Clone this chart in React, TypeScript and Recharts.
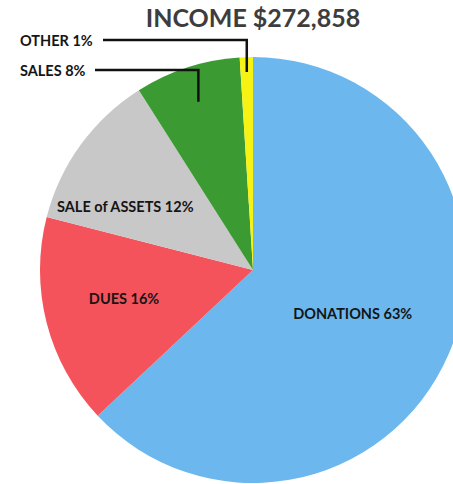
import { PieChart, Pie, Cell } from 'recharts'

const categories = ['DONATIONS', 'DUES', 'SALE of ASSETS', 'SALES', 'OTHER']
const shares = [63, 16, 12, 8, 1]
const colors = ['#6cb8ee', '#f4535b', '#c8c8c8', '#3c9a32', '#f5f214']
const title = 'INCOME $272,858'

const data = categories.map((name, i) => ({ name, value: shares[i] }))

const RAD = Math.PI / 180
const FONT = 'Lato, "Open Sans", sans-serif'

// inside labels: radius factor + angle nudge; outside labels: leader line to the left
const labelLayout = [
  { kind: 'in', r: 0.51, da: 0 },
  { kind: 'in', r: 0.62, da: -2 },
  { kind: 'in', r: 0.67, da: 9.5 },
  { kind: 'out', r: 0.83, lineY: -200, lineX: -158 },
  { kind: 'out', r: 0.93, lineY: -230, lineX: -150 },
]

function renderLabel(props) {
  const { cx, cy, midAngle, outerRadius, index, name, value } = props
  const lay = labelLayout[index]
  const text = `${name} ${value}%`
  if (lay.kind === 'in') {
    const a = (midAngle + lay.da) * RAD
    const x = cx + outerRadius * lay.r * Math.cos(-a)
    const y = cy + outerRadius * lay.r * Math.sin(-a)
    return (
      <text x={x} y={y} textAnchor="middle" dominantBaseline="central" fill="#151515" fontSize={14.5} fontWeight={700} fontFamily={FONT}>
        {text}
      </text>
    )
  }
  const a = midAngle * RAD
  const ex = cx + outerRadius * lay.r * Math.cos(-a)
  const ey = cy + outerRadius * lay.r * Math.sin(-a)
  const ly = cy + lay.lineY
  const lx = cx + lay.lineX
  return (
    <g>
      <polyline points={`${ex},${ey} ${ex},${ly} ${lx},${ly}`} fill="none" stroke="#111" strokeWidth={2.5} />
      <text x={20} y={ly} textAnchor="start" dominantBaseline="central" fill="#151515" fontSize={14.5} fontWeight={700} fontFamily={FONT}>
        {text}
      </text>
    </g>
  )
}

export default function App() {
  return (
    <div style={{ position: 'absolute', left: 0, top: 0, width: 453, height: 484, background: '#fff', overflow: 'hidden' }}>
      <div style={{ position: 'absolute', left: 0, top: 2, width: 506, textAlign: 'center', fontFamily: FONT, fontWeight: 700, fontSize: 25, color: '#3d3d3d' }}>
        {title}
      </div>
      <PieChart width={453} height={484} margin={{ top: 0, right: 0, bottom: 0, left: 0 }}>
        <Pie
          data={data}
          dataKey="value"
          nameKey="name"
          cx={253}
          cy={270}
          outerRadius={213}
          startAngle={90}
          endAngle={-270}
          stroke="none"
          labelLine={false}
          label={renderLabel}
          isAnimationActive={false}
        >
          {data.map((d, i) => (
            <Cell key={d.name} fill={colors[i]} />
          ))}
        </Pie>
      </PieChart>
    </div>
  )
}
